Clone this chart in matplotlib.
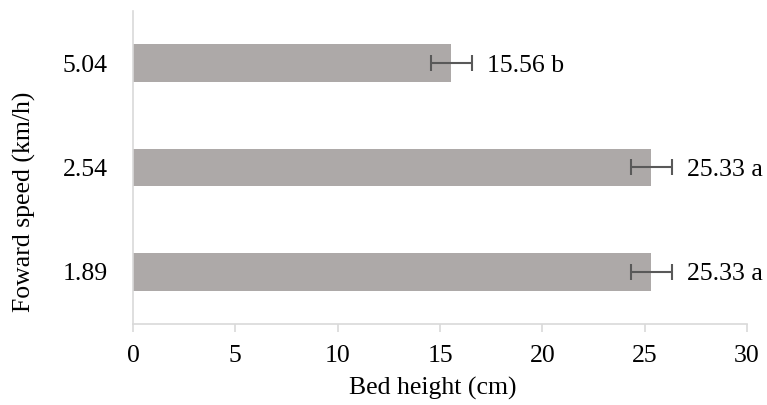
import matplotlib.pyplot as plt

speeds = ["1.89", "2.54", "5.04"]
bed_height = [25.33, 25.33, 15.56]
errors = [1.0, 1.0, 1.0]
letters = ["a", "a", "b"]

plt.rcParams["font.family"] = ["Liberation Serif", "DejaVu Serif"]
plt.rcParams["font.size"] = 18.5

fig = plt.figure(figsize=(7.67, 4.05), dpi=100)
ax = fig.add_axes([0.1734, 0.2, 0.8006, 0.773])

y = range(len(speeds))
ax.barh(y, bed_height, height=0.36, color="#ADA9A8")
ax.errorbar(bed_height, list(y), xerr=errors, fmt="none", ecolor="#595959",
            elinewidth=1.5, capsize=6, capthick=1.5)

for i, (v, e, l) in enumerate(zip(bed_height, errors, letters)):
    ax.text(v + e + 0.75, i, f"{v:.2f} {l}", va="center_baseline", ha="left")

ax.set_xlim(0, 30)
ax.set_ylim(-0.5, 2.5)
ax.set_xticks(range(0, 31, 5))
ax.set_yticks(list(y))
ax.set_yticklabels(speeds)

# axis titles placed in figure pixels
fig.text(433 / 767, 1 - 388 / 405, "Bed height (cm)", ha="center", va="center")
fig.text(24 / 767, 1 - 202 / 405, "Foward speed (km/h)", ha="center", va="center",
         rotation=90)

for s in ["top", "right"]:
    ax.spines[s].set_visible(False)
for s in ["left", "bottom"]:
    ax.spines[s].set_color("#D9D9D9")
    ax.spines[s].set_linewidth(1.2)
ax.tick_params(axis="x", direction="out", length=6, color="#D9D9D9", width=1.2, pad=9)
ax.tick_params(axis="y", length=0, pad=18)

fig.savefig("out.png", dpi=100)
